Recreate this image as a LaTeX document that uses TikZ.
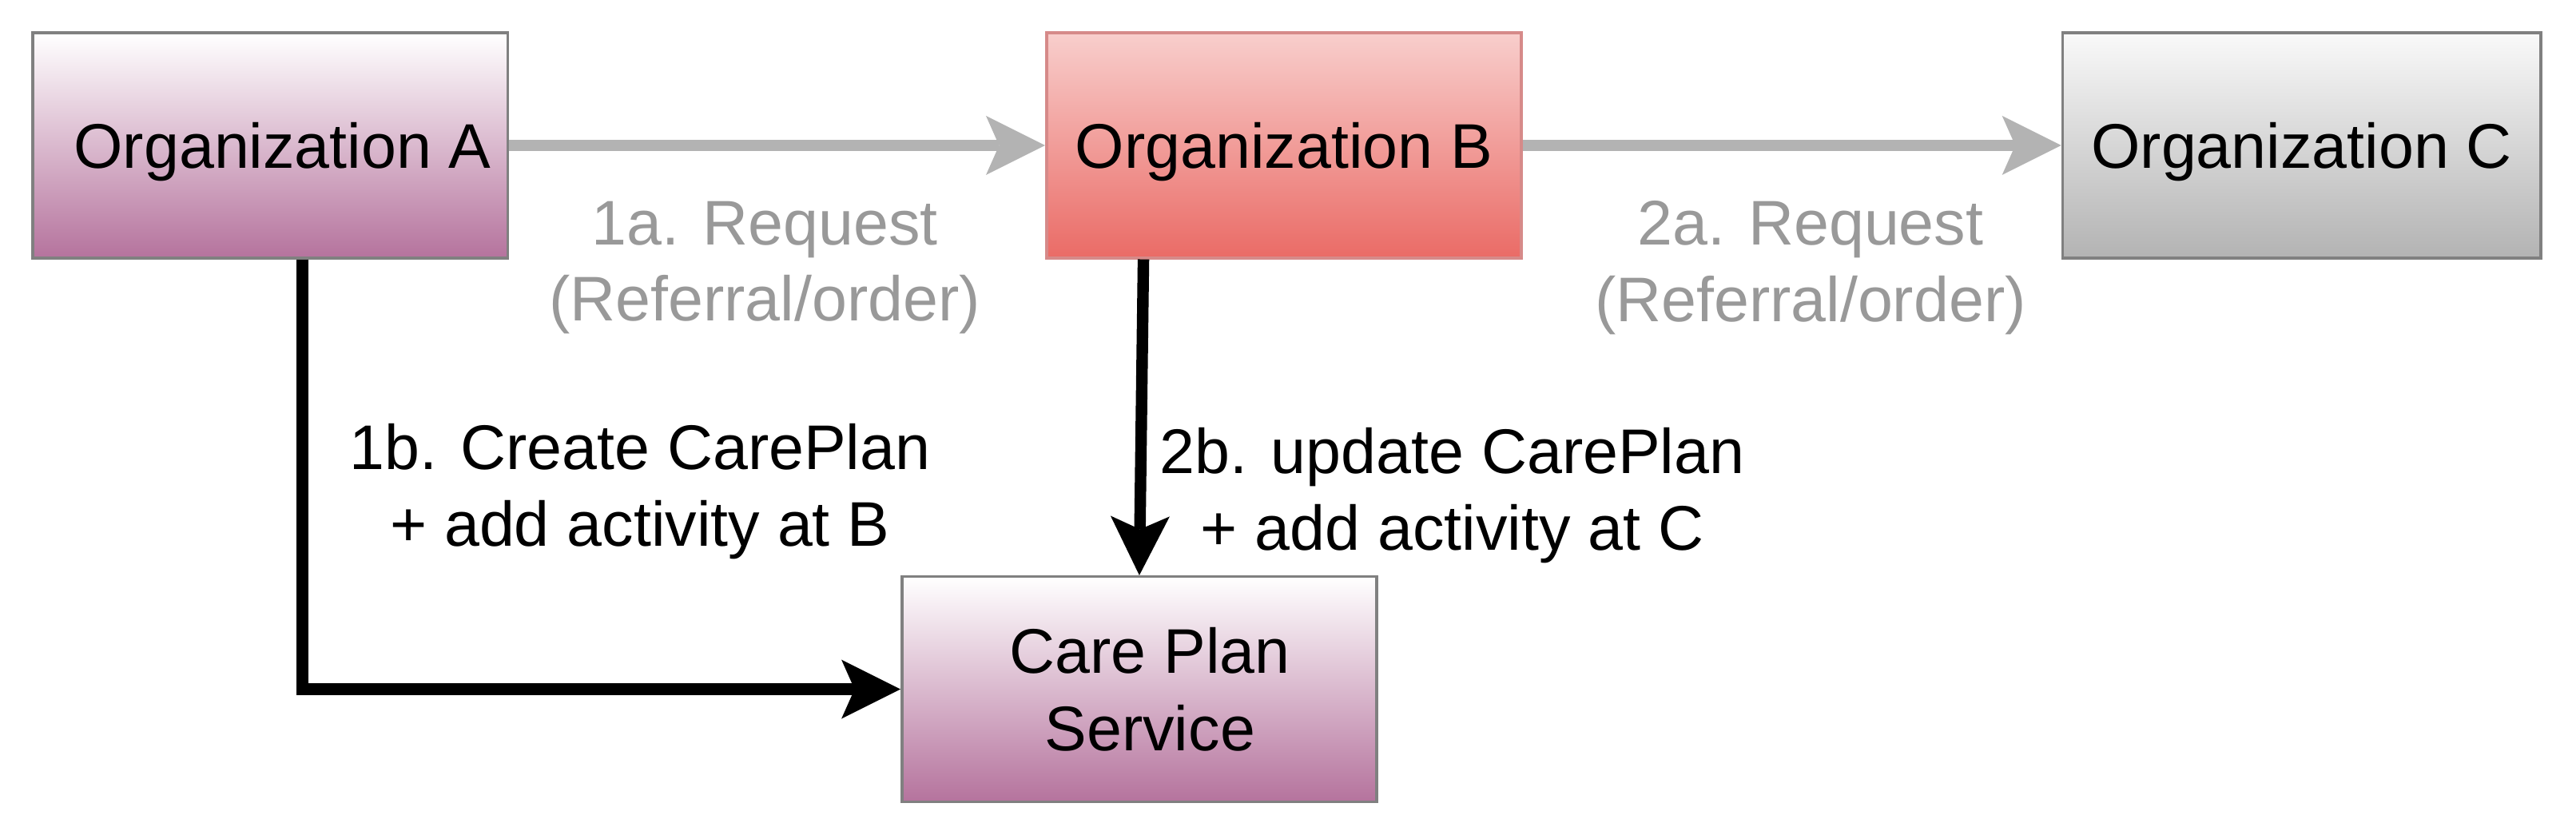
\documentclass[tikz,border=0pt]{standalone}
\usepackage{fontspec}
\setmainfont{Liberation Sans}
\usetikzlibrary{arrows.meta}
\definecolor{boxgray}{HTML}{808080}
\definecolor{redstroke}{HTML}{D68A89}
\definecolor{purpbot}{HTML}{B5739D}
\definecolor{redtop}{HTML}{F8CECC}
\definecolor{redbot}{HTML}{EA6B66}
\definecolor{graytop}{HTML}{F9F9F9}
\definecolor{graybot}{HTML}{B3B3B3}
\definecolor{arrowgray}{HTML}{B3B3B3}
\definecolor{labelgray}{HTML}{999999}
\begin{document}
\begin{tikzpicture}[x=1pt,y=-1pt,
  box/.style={draw=boxgray, line width=1.7pt, minimum width=289pt, minimum height=137pt,
    inner sep=0pt, font=\fontsize{38.4}{47}\selectfont, align=center},
  oneline/.style={text height=28pt, text depth=0pt},
  purplebox/.style={box, top color=white, bottom color=purpbot},
  redbox/.style={box, draw=redstroke, top color=redtop, bottom color=redbot},
  graybox/.style={box, top color=graytop, bottom color=graybot},
  lbl/.style={font=\fontsize{38.4}{46.5}\selectfont, align=center, inner sep=0pt},
  tip/.style={-{Stealth[length=36pt,width=36pt,inset=8pt,line width=0pt]}},
  grayarrow/.style={draw=arrowgray, line width=7pt, tip},
  blackarrow/.style={draw=black, line width=7pt, tip}]
\useasboundingbox (0,0) rectangle (1568,508);

\node[purplebox, oneline] (A) at (164.5,88.5) {\hspace*{15pt}Organization A};
\node[redbox, oneline] (B) at (781.5,88.5) {Organization B};
\node[graybox, oneline, minimum width=291pt] (C) at (1401,88.5) {Organization C};
\node[purplebox] (CP) at (693.5,419.5) {\hspace*{13pt}Care Plan\\\hspace*{13pt}Service};

\draw[grayarrow] (A.east) -- (B.west);
\draw[grayarrow] (B.east) -- (C.west);
\draw[blackarrow] ([xshift=19.5pt]A.south) |- (CP.west);
\draw[blackarrow] ([xshift=-85.5pt]B.south) -- (CP.north);

\node[lbl, text=labelgray] (l1a) at (465.5,163) {1a. Request\\(Referral/order)};
\node[lbl, text=labelgray] (l2a) at (1102,163) {2a. Request\\(Referral/order)};
\node[lbl] (l1b) at (389.5,299) {1b. Create CarePlan\\+ add activity at B};
\node[lbl] (l2b) at (884,301.5) {2b. update CarePlan\\+ add activity at C};
\end{tikzpicture}
\end{document}
